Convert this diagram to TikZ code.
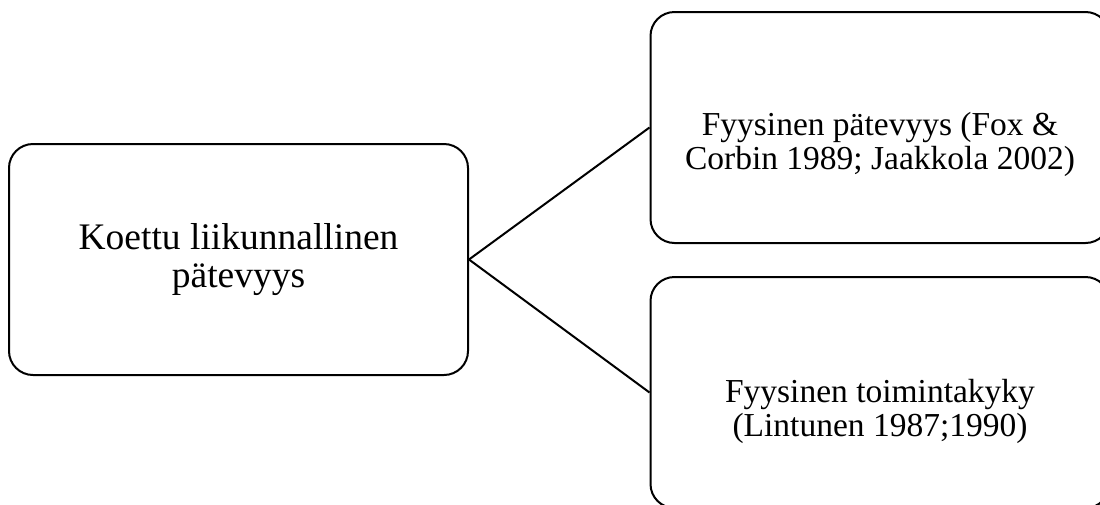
\documentclass[tikz,border=0pt]{standalone}
\usepackage{fontspec}
\setmainfont{Liberation Serif}
\tikzset{
    box/.style={draw,line width=2pt,rounded corners=24pt,minimum width=459pt,minimum height=231pt,inner sep=0pt},
    boxtext/.style={align=center,inner sep=0pt},
    link/.style={line width=2pt}
}
\begin{document}
\begin{tikzpicture}[x=1pt,y=-1pt]

    \useasboundingbox (0,0) rectangle (1100,504);
    \clip (0,0) rectangle (1100,504);

    \node[box] (koettu) at (238.5,259.5) {};
    \node[box] (fyysinen) at (880,127.5) {};
    \node[box] (toiminta) at (880,392.5) {};

    \node[boxtext,font=\fontsize{37.5}{38}\selectfont] (koettutxt) at (koettu.center) {Koettu liikunnallinen\\pätevyys};
    \node[boxtext,font=\fontsize{33.5}{34}\selectfont] (fyysinentxt) at ([yshift=-17pt]fyysinen.center) {Fyysinen pätevyys (Fox \&\\Corbin 1989; Jaakkola 2002)};
    \node[boxtext,font=\fontsize{33.5}{34}\selectfont] (toimintatxt) at ([yshift=-19pt]toiminta.center) {Fyysinen toimintakyky\\(Lintunen 1987;1990)};

    \draw[link] (koettu.east)--(fyysinen.west);
    \draw[link] (koettu.east)--(toiminta.west);

\end{tikzpicture}
\end{document}
